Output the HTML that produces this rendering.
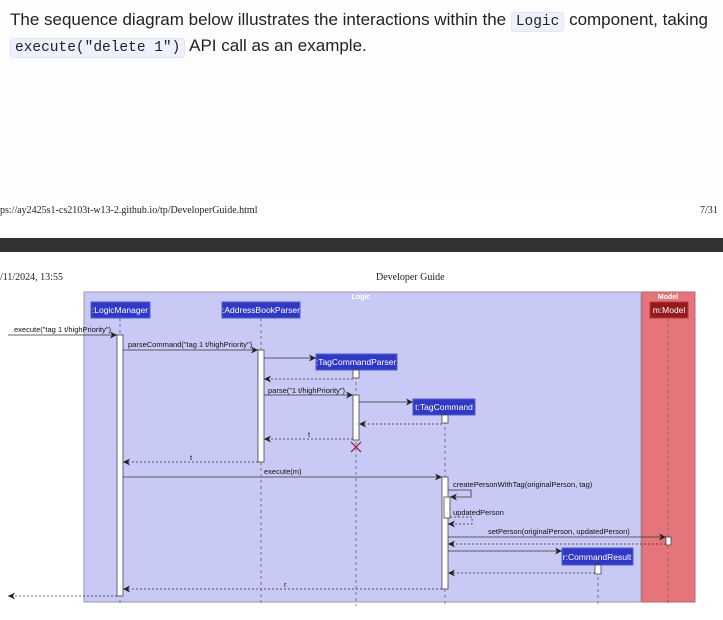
<!DOCTYPE html>
<html><head><meta charset="utf-8"><style>
html,body{margin:0;padding:0;width:723px;height:620px;overflow:hidden;background:#fff;font-family:"Liberation Sans",sans-serif}
.top{position:absolute;left:0;top:0;width:723px;height:200px;background:#fdfdfe}
.p{position:absolute;left:10px;font-size:17px;color:#222;white-space:nowrap}
code{font-family:"Liberation Mono",monospace;font-size:14.5px;background:#eef0fb;border:1px solid #e3e5f3;border-radius:3px;padding:1px 4px}
.serif{position:absolute;font-family:"Liberation Serif",serif;font-size:10px;color:#222}
</style></head><body>
<div class="top"></div>
<div class="p" style="top:10px">The sequence diagram below illustrates the interactions within the <code>Logic</code> component, taking</div>
<div class="p" style="top:36px"><code>execute("delete 1")</code> API call as an example.</div>
<div class="serif" style="left:0;top:205px">ps://ay2425s1-cs2103t-w13-2.github.io/tp/DeveloperGuide.html</div>
<div class="serif" style="left:700px;top:205px">7/31</div>
<div style="position:absolute;left:0;top:238px;width:723px;height:14px;background:#333"></div>
<div class="serif" style="left:0;top:272px">/11/2024, 13:55</div>
<div class="serif" style="left:376px;top:272px">Developer Guide</div>
<svg style="position:absolute;left:0;top:0" width="723" height="620" font-family="Liberation Sans, sans-serif">
<defs>
<marker id="a" markerWidth="8" markerHeight="8" refX="7" refY="4" orient="auto" markerUnits="userSpaceOnUse"><path d="M0,0.5 L7,4 L0,7.5 L2,4 Z" fill="#222"/></marker>
</defs>
<rect x="84" y="292" width="557" height="310" fill="#c8c9f5" stroke="#9a9ab0"/>
<rect x="642" y="292" width="53" height="310" fill="#e5757a" stroke="#c06068"/>
<text x="361" y="299" font-size="7" fill="#fff" font-weight="bold" text-anchor="middle">Logic</text>
<text x="668" y="299" font-size="7" fill="#fff" font-weight="bold" text-anchor="middle">Model</text>
<g stroke="#666" stroke-dasharray="3,3" stroke-width="0.8">
<line x1="120" y1="318" x2="120" y2="606"/><line x1="261" y1="318" x2="261" y2="606"/>
<line x1="356" y1="370" x2="356" y2="606"/><line x1="445" y1="415" x2="445" y2="606"/>
<line x1="598" y1="565" x2="598" y2="606"/><line x1="668" y1="318" x2="668" y2="606"/>
</g>
<g font-size="8.5" fill="#fff" text-anchor="middle">
<rect x="91" y="302" width="59" height="16" fill="#3039c6" stroke="#5560d0"/><text x="120" y="313">:LogicManager</text>
<rect x="222" y="302" width="78" height="16" fill="#3039c6" stroke="#5560d0"/><text x="261" y="313">:AddressBookParser</text>
<rect x="316" y="354" width="81" height="16" fill="#3039c6" stroke="#5560d0"/><text x="356" y="365">:TagCommandParser</text>
<rect x="413" y="399" width="62" height="16" fill="#3039c6" stroke="#5560d0"/><text x="444" y="410">t:TagCommand</text>
<rect x="562" y="548" width="71" height="17" fill="#3039c6" stroke="#5560d0"/><text x="597" y="560">r:CommandResult</text>
<rect x="650" y="302" width="38" height="16" fill="#961a1a" stroke="#b04040"/><text x="669" y="313">m:Model</text>
</g>
<g fill="#fff" stroke="#444" stroke-width="0.8">
<rect x="117" y="335" width="6" height="261"/><rect x="258" y="350" width="6" height="112"/>
<rect x="353" y="370" width="6" height="8"/><rect x="353" y="395" width="6" height="45"/>
<rect x="442" y="415" width="6" height="8"/><rect x="442" y="477" width="6" height="112"/>
<rect x="444" y="497" width="6" height="21"/><rect x="666" y="537" width="5" height="8"/>
<rect x="595" y="565" width="6" height="9"/>
</g>
<g stroke="#333" stroke-width="0.8" fill="none" marker-end="url(#a)">
<line x1="8" y1="335" x2="117" y2="335"/><line x1="123" y1="350" x2="258" y2="350"/>
<line x1="264" y1="358" x2="316" y2="358"/><line x1="264" y1="395" x2="353" y2="395"/>
<line x1="359" y1="402" x2="413" y2="402"/><line x1="123" y1="477" x2="442" y2="477"/>
<polyline points="448,490 471,490 471,497 450,497"/>
<line x1="448" y1="537" x2="666" y2="537"/><line x1="448" y1="551" x2="562" y2="551"/>
</g>
<g stroke="#333" stroke-width="0.8" fill="none" stroke-dasharray="2,2" marker-end="url(#a)">
<line x1="353" y1="379" x2="264" y2="379"/><line x1="442" y1="424" x2="359" y2="424"/>
<line x1="353" y1="439" x2="264" y2="439"/><line x1="258" y1="462" x2="123" y2="462"/>
<polyline points="450,517 472,517 472,524 448,524"/>
<line x1="666" y1="544" x2="448" y2="544"/><line x1="595" y1="573" x2="448" y2="573"/>
<line x1="442" y1="589" x2="123" y2="589"/><line x1="117" y1="596" x2="8" y2="596"/>
</g>
<path d="M351,442 L361,452 M361,442 L351,452" stroke="#a01830" stroke-width="1.2"/>
<g font-size="7.5" fill="#111">
<text x="14" y="332">execute("tag 1 t/highPriority")</text>
<text x="128" y="347">parseCommand("tag 1 t/highPriority")</text>
<text x="268" y="393">parse("1 t/highPriority")</text>
<text x="308" y="437">t</text><text x="190" y="460">t</text>
<text x="264" y="474">execute(m)</text>
<text x="453" y="487">createPersonWithTag(originalPerson, tag)</text>
<text x="453" y="515">updatedPerson</text>
<text x="488" y="534">setPerson(originalPerson, updatedPerson)</text>
<text x="284" y="587">r</text>
</g>
</svg>
</body></html>
